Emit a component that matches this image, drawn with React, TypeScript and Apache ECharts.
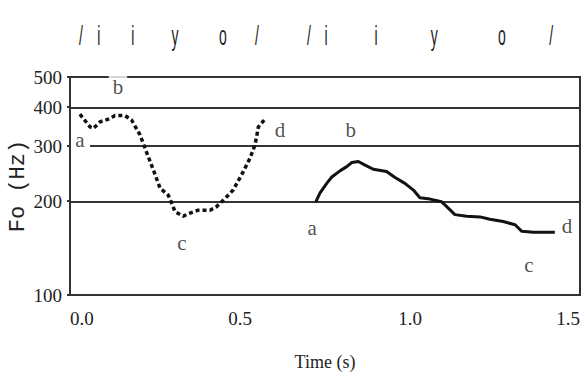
import React, { useEffect, useRef } from 'react';
import * as echarts from 'echarts';

// y-axis ticks (Hz, logarithmic axis) and reference lines
const yTicksHz = [100, 200, 300, 400, 500];
const gridLinesHz = [200, 300, 400];
// x-axis ticks (s)
const xTicks = [0, 0.5, 1.0, 1.5];

// first utterance F0 contour
const curve1T = [0.029, 0.059, 0.069, 0.088, 0.118, 0.132, 0.162, 0.181, 0.206, 0.221, 0.245, 0.265, 0.289, 0.299, 0.309, 0.333, 0.353, 0.377, 0.412, 0.431, 0.446, 0.48, 0.51, 0.529, 0.544, 0.549, 0.554, 0.574];
const curve1Hz = [380, 346, 342, 359, 368, 376, 376, 364, 326, 295, 252, 220, 209, 197, 185, 179, 183, 187, 187, 192, 199, 217, 249, 274, 303, 322, 346, 367];

// second utterance F0 contour
const curve2T = [0.723, 0.735, 0.755, 0.77, 0.794, 0.814, 0.829, 0.848, 0.868, 0.892, 0.931, 0.956, 0.985, 1.01, 1.029, 1.059, 1.093, 1.108, 1.132, 1.167, 1.206, 1.235, 1.274, 1.309, 1.329, 1.363, 1.426];
const curve2Hz = [199, 212, 228, 239, 250, 258, 266, 268, 261, 253, 249, 238, 228, 217, 205, 203, 199, 192, 181, 179, 178, 175, 172, 168, 160, 159, 159];

// point labels a-d
const markerLetters = ['a', 'b', 'c', 'd', 'a', 'b', 'c', 'd'];
const markerT = [0.029, 0.141, 0.329, 0.618, 0.712, 0.826, 1.35, 1.462];
const markerHz = [314, 464, 147, 338, 164, 338, 125, 166];

// phonemic transcription along the top
const phonemes = ['/', 'i', 'i', 'y', 'o', '/', '/', 'i', 'i', 'y', 'o', '/'];
const phonemeT = [0.032, 0.085, 0.185, 0.309, 0.45, 0.55, 0.703, 0.753, 0.9, 1.071, 1.27, 1.415];

// the 300 Hz line starts after the first "a" label
const line300StartT = 0.059;

const SERIF = '"Liberation Serif", "Times New Roman", serif';
const MONO = '"Courier New", "Liberation Mono", monospace';
const INK = '#222';
const LINE = '#333';

export default function App() {
  const ref = useRef<HTMLDivElement>(null);
  useEffect(() => {
    document.body.style.margin = '0';
    const chart = echarts.init(ref.current!, null, { renderer: 'svg' });
    const lg = (v: number) => Math.log10(v);

    const markerData = markerLetters.map((l, i) => {
      const item: any = { value: [markerT[i], lg(markerHz[i])], name: l };
      if (i === 1) item.label = { backgroundColor: '#fff', padding: [3, 4, 0, 4] };
      return item;
    });

    const refLines: any[] = gridLinesHz
      .filter((h) => h !== 300)
      .map((h) => ({ yAxis: lg(h) }));
    refLines.push([
      { coord: [line300StartT, lg(300)] },
      { coord: [1.5, lg(300)] },
    ]);

    const tickRich = { s: { fontFamily: SERIF, fontSize: 19, color: INK } };

    chart.setOption({
      animation: false,
      backgroundColor: '#fff',
      textStyle: { fontFamily: SERIF, color: INK },
      grid: {
        left: 70,
        right: 7,
        top: 77,
        bottom: 79,
        outerBoundsMode: 'none',
        containLabel: false,
        show: true,
        borderColor: LINE,
        borderWidth: 2,
        backgroundColor: 'transparent',
      },
      xAxis: {
        type: 'value',
        min: 0,
        max: 1.5,
        interval: 0.5,
        name: 'Time (s)',
        nameLocation: 'middle',
        nameGap: 58,
        nameMoveOverlap: false,
        nameTextStyle: { fontFamily: SERIF, fontSize: 18, color: INK },
        axisLine: { show: true, lineStyle: { color: LINE, width: 2 } },
        axisTick: { show: false },
        splitLine: { show: false },
        axisLabel: {
          fontFamily: SERIF,
          fontSize: 19,
          color: INK,
          margin: 14,
          hideOverlap: false,
          alignMinLabel: 'left',
          alignMaxLabel: 'right',
          customValues: xTicks,
          rich: tickRich,
          formatter: (v: number) => '{s|' + v.toFixed(1) + '}',
        },
      },
      yAxis: {
        type: 'value',
        min: 2,
        max: lg(500),
        name: 'Fo (Hz)',
        nameLocation: 'middle',
        nameGap: 41,
        nameMoveOverlap: false,
        nameRotate: 90,
        nameTextStyle: { fontFamily: MONO, fontSize: 22, color: INK },
        axisLine: { show: true, lineStyle: { color: LINE, width: 2 } },
        axisTick: { show: true, length: 3, customValues: yTicksHz.map(lg), lineStyle: { color: LINE, width: 2 } },
        splitLine: { show: false },
        axisLabel: {
          fontFamily: SERIF,
          fontSize: 19,
          color: INK,
          margin: 8,
          hideOverlap: false,
          customValues: yTicksHz.map(lg),
          rich: tickRich,
          formatter: (v: number) => '{s|' + String(Math.round(Math.pow(10, v))) + '}',
        },
      },
      series: [
        {
          type: 'line',
          data: curve1T.map((t, i) => [t, lg(curve1Hz[i])]),
          showSymbol: false,
          symbol: 'none',
          lineStyle: { color: '#111', width: 3.5, type: [4, 3] },
          z: 3,
          markLine: {
            silent: true,
            symbol: 'none',
            label: { show: false },
            lineStyle: { color: LINE, width: 2, type: 'solid' },
            data: refLines,
            z: 1,
          },
        },
        {
          type: 'line',
          data: curve2T.map((t, i) => [t, lg(curve2Hz[i])]),
          showSymbol: false,
          symbol: 'none',
          lineStyle: { color: '#111', width: 3 },
          z: 3,
        },
        {
          type: 'scatter',
          data: markerData,
          symbolSize: 1,
          itemStyle: { color: 'rgba(0,0,0,0)' },
          silent: true,
          z: 10,
          label: {
            show: true,
            position: 'inside',
            formatter: (p: any) => p.name,
            fontFamily: SERIF,
            fontSize: 21,
            color: INK,
          },
        },
      ],
    });

    const graphic = phonemes.map((p, i) => {
      const pt = chart.convertToPixel({ gridIndex: 0 }, [phonemeT[i], lg(300)]) as number[];
      return {
        type: 'text',
        x: pt[0],
        y: 36,
        scaleX: 0.5,
        style: {
          text: p,
          font: '28px "Liberation Sans", Arial, sans-serif',
          fill: INK,
          textAlign: 'center',
          textVerticalAlign: 'middle',
        },
      };
    });
    chart.setOption({ graphic });

    return () => chart.dispose();
  }, []);
  return <div ref={ref} style={{ width: 587, height: 374, position: 'fixed', left: 0, top: 0 }} />;
}
